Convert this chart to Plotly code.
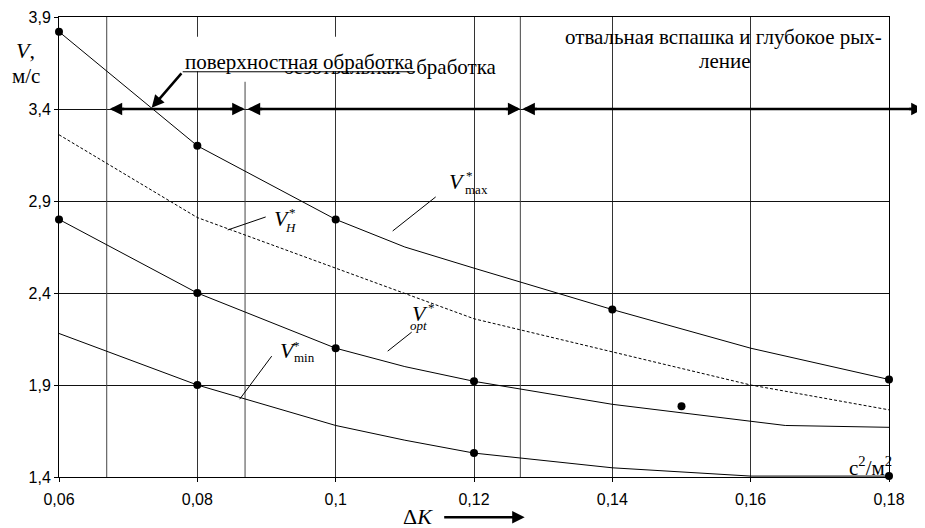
import plotly.graph_objects as go

# ---------------- data ----------------
x_tickvals = [0.06, 0.08, 0.10, 0.12, 0.14, 0.16, 0.18]
x_ticktext = ["0,06", "0,08", "0,1", "0,12", "0,14", "0,16", "0,18"]
y_tickvals = [1.4, 1.9, 2.4, 2.9, 3.4, 3.9]
y_ticktext = ["1,4", "1,9", "2,4", "2,9", "3,4", "3,9"]

vmax_x = [0.06, 0.08, 0.10, 0.11, 0.12, 0.14, 0.16, 0.18]
vmax_y = [3.82, 3.20, 2.80, 2.65, 2.535, 2.31, 2.10, 1.93]
vmax_pts_x = [0.06, 0.08, 0.10, 0.14, 0.18]
vmax_pts_y = [3.82, 3.20, 2.80, 2.31, 1.93]

vh_x = [0.06, 0.08, 0.12, 0.14, 0.16, 0.18]
vh_y = [3.26, 2.81, 2.26, 2.08, 1.90, 1.765]

vopt_x = [0.06, 0.08, 0.10, 0.11, 0.12, 0.14, 0.165, 0.18]
vopt_y = [2.80, 2.40, 2.10, 2.00, 1.92, 1.795, 1.68, 1.67]
vopt_pts_x = [0.06, 0.08, 0.10, 0.12]
vopt_pts_y = [2.80, 2.40, 2.10, 1.92]

extra_x = [0.15]
extra_y = [1.785]

vmin_x = [0.06, 0.08, 0.10, 0.11, 0.12, 0.14, 0.16, 0.18]
vmin_y = [2.18, 1.90, 1.68, 1.60, 1.53, 1.45, 1.405, 1.405]
vmin_pts_x = [0.08, 0.12, 0.18]
vmin_pts_y = [1.90, 1.53, 1.405]

zone_bounds = [0.0669, 0.0869, 0.1267]
zone_level = 3.4

# ---------------- layout helpers ----------------
PAGE_W, PAGE_H = 925, 528
OFF = 8                      # default body margin of the page
W, H = PAGE_W - OFF, PAGE_H - OFF
L, R, T, B = 59.3, 889.3, 17.3, 476.7   # plot area in page pixels
X0, X1 = 0.06, 0.18
Y0, Y1 = 1.4, 3.9


def px(xp):
    return (xp - L) / (R - L)


def py(yp):
    return (B - yp) / (B - T)


def dx(xp):
    return X0 + px(xp) * (X1 - X0)


def dy(yp):
    return Y0 + py(yp) * (Y1 - Y0)


SERIF = "Liberation Serif"
SANS = "Liberation Sans"

fig = go.Figure()
ln = dict(color="black", width=1)
fig.add_trace(go.Scatter(x=vmax_x, y=vmax_y, mode="lines", line=ln, cliponaxis=False))
fig.add_trace(go.Scatter(x=vh_x, y=vh_y, mode="lines",
                         line=dict(color="black", width=1, dash="3px,2px"), cliponaxis=False))
fig.add_trace(go.Scatter(x=vopt_x, y=vopt_y, mode="lines", line=ln, cliponaxis=False))
fig.add_trace(go.Scatter(x=vmin_x, y=vmin_y, mode="lines", line=ln, cliponaxis=False))
mk = dict(color="black", size=8)
for xs, ys in [(vmax_pts_x, vmax_pts_y), (vopt_pts_x, vopt_pts_y),
               (extra_x, extra_y), (vmin_pts_x, vmin_pts_y)]:
    fig.add_trace(go.Scatter(x=xs, y=ys, mode="markers", marker=mk, cliponaxis=False))

# text partly hidden behind the other label
fig.add_trace(go.Scatter(x=[dx(390)], y=[dy(69)], mode="text",
                         text=["безотвальная обработка"], textposition="middle center",
                         textfont=dict(family=SERIF, size=21, color="black"),
                         cliponaxis=False))

shapes = []
# gaps in the grid behind the text boxes
for (a, b, c, d) in [(183, 417, 36, 73), (250, 516, 35, 127), (526, 884, 35, 100)]:
    shapes.append(dict(type="rect", xref="paper", yref="paper", x0=px(a), x1=px(b),
                       y0=py(d), y1=py(c), fillcolor="white", line=dict(width=0),
                       layer="between"))
# zone boundaries
shapes.append(dict(type="line", xref="x", yref="y", x0=zone_bounds[0], x1=zone_bounds[0],
                   y0=Y0, y1=Y1, line=dict(color="#444", width=1), layer="between"))
shapes.append(dict(type="line", xref="x", yref="y", x0=zone_bounds[1], x1=zone_bounds[1],
                   y0=Y0, y1=dy(82), line=dict(color="#444", width=1), layer="between"))
shapes.append(dict(type="line", xref="x", yref="y", x0=zone_bounds[2], x1=zone_bounds[2],
                   y0=Y0, y1=Y1, line=dict(color="#444", width=1), layer="between"))
# white box of the upper label
shapes.append(dict(type="rect", xref="paper", yref="paper", x0=px(183), x1=px(417),
                   y0=py(71.5), y1=py(37), fillcolor="white", line=dict(width=0),
                   layer="above"))
# underline of upper label
shapes.append(dict(type="line", xref="paper", yref="paper", x0=px(183), x1=px(415),
                   y0=py(72), y1=py(72), line=dict(color="black", width=1), layer="above"))
# leader lines for curve labels
for (a, b, c, d) in [(393, 231, 436, 197), (228, 230, 266, 217),
                     (240, 399, 272, 356), (388, 351, 412, 332)]:
    shapes.append(dict(type="line", xref="paper", yref="paper", x0=px(a), y0=py(b),
                       x1=px(c), y1=py(d), line=dict(color="black", width=1), layer="above"))
# zone arrows (shafts)
for (a, b) in [(112, 243), (250, 518), (525, 920)]:
    shapes.append(dict(type="line", xref="paper", yref="y", x0=px(a), x1=px(b),
                       y0=zone_level, y1=zone_level, line=dict(color="black", width=2.5),
                       layer="above"))

annotations = []


def head(xp, yref, yv, axp, ayp, width=2.5):
    return dict(xref="paper", yref=yref, x=px(xp), y=yv, ax=axp, ay=ayp, text="",
                showarrow=True, arrowhead=2, arrowsize=1, arrowwidth=width,
                arrowcolor="black")


for (xp, d) in [(110, 1), (245, -1), (248, 1), (520.7, -1), (522.7, 1), (924, -1)]:
    annotations.append(head(xp, "y", zone_level, 16 * d, 0))
# pointer of "поверхностная обработка"
annotations.append(head(152, "paper", py(108), 31, -36))
# ΔK arrow
annotations.append(head(525, "paper", py(517), -82, 0))


def txt(s, xp, yp, size, xanchor="center", yanchor="middle", family=SERIF):
    return dict(xref="paper", yref="paper", x=px(xp), y=py(yp), text=s, showarrow=False,
                xanchor=xanchor, yanchor=yanchor,
                font=dict(family=family, size=size, color="black"))


annotations += [
    txt("поверхностная обработка", 300, 62, 21),
    txt("отвальная вспашка и глубокое рых-", 724, 37, 21),
    txt("ление", 725, 61, 21),
    txt("<i>V</i>,", 26, 51, 22),
    txt("м/с", 26, 76, 21),
    txt("Δ<i>K</i>", 418, 516, 22),
    txt("с<sup>2</sup>/м<sup>2</sup>", 847, 466, 21, xanchor="left"),
    # V*max
    txt("<i>V</i>", 457, 182, 22),
    txt("*", 470, 176, 13),
    txt("max", 463, 190, 13, xanchor="left"),
    # V*H
    txt("<i>V</i>", 282, 219, 22),
    txt("*", 293, 213, 13),
    txt("<i>H</i>", 291, 228, 13),
    # V*min
    txt("<i>V</i>", 288, 350, 22),
    txt("*", 297, 345, 13),
    txt("min", 292, 357.5, 13, xanchor="left"),
    # V*opt
    txt("<i>V</i>", 420, 313, 22),
    txt("*", 432, 307, 13),
    txt("<i>opt</i>", 408, 325, 13, xanchor="left"),
]

fig.update_layout(
    width=W, height=H,
    margin=dict(l=L - OFF, r=PAGE_W - R, t=T - OFF, b=PAGE_H - B, pad=0, autoexpand=False),
    paper_bgcolor="white", plot_bgcolor="white",
    showlegend=False,
    shapes=shapes, annotations=annotations,
    xaxis=dict(range=[X0, X1], tickvals=x_tickvals, ticktext=x_ticktext,
               showgrid=True, gridcolor="#333", gridwidth=1, zeroline=False,
               showline=True, linecolor="black", linewidth=1, mirror=True,
               ticks="outside", ticklen=4, tickcolor="black", ticklabelstandoff=4,
               tickfont=dict(family=SANS, size=16, color="black"), automargin=False),
    yaxis=dict(range=[Y0, Y1], tickvals=y_tickvals, ticktext=y_ticktext,
               showgrid=True, gridcolor="#111", gridwidth=1, zeroline=False,
               showline=True, linecolor="black", linewidth=1, mirror=True,
               ticks="outside", ticklen=4, tickcolor="black",
               tickfont=dict(family=SANS, size=16, color="black"), automargin=False),
)

fig.write_html("out.html")
